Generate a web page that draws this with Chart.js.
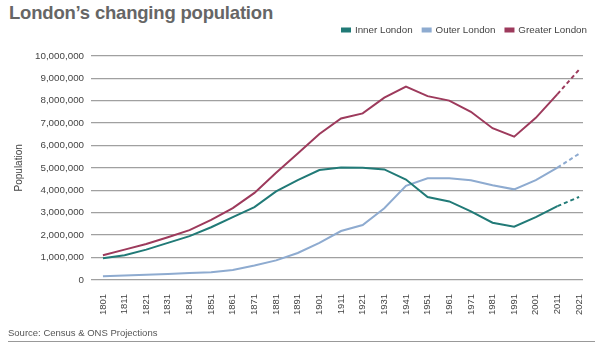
<!DOCTYPE html>
<html>
<head>
<meta charset="utf-8">
<script src="https://cdn.jsdelivr.net/npm/chart.js@4"></script>
<style>
	html, body { margin: 0; padding: 0; background: #fff; }
	#wrap { position: relative; width: 601px; height: 347px; overflow: hidden; font-family: "Liberation Sans", Arial, sans-serif; }
	#title { position: absolute; left: 9px; top: 2px; font-size: 18.5px; font-weight: bold; color: #666; letter-spacing: -0.2px; }
	#chart_box { position: absolute; left: 0; top: 0; width: 601px; height: 330px; }
	#source { position: absolute; left: 8px; top: 327px; font-size: 9.5px; color: #555; }
	#rule { position: absolute; left: 8px; top: 341px; width: 587px; height: 1px; background: #999; }
</style>
</head>
<body>
<div id="wrap">
	<div id="title">London’s changing population</div>
	<div id="chart_box"><canvas id="chart"></canvas></div>
	<div id="source">Source: Census &amp; ONS Projections</div>
	<div id="rule"></div>
</div>
<script>
	"use strict";

	var years = [1801, 1811, 1821, 1831, 1841, 1851, 1861, 1871, 1881, 1891, 1901,
		1911, 1921, 1931, 1941, 1951, 1961, 1971, 1981, 1991, 2001, 2011, 2021];

	var inner_london = [960000, 1100000, 1350000, 1650000, 1950000, 2350000, 2800000, 3250000, 3950000, 4450000, 4900000,
		5020000, 5000000, 4930000, 4480000, 3700000, 3500000, 3060000, 2550000, 2370000, 2800000, 3290000, 3700000];

	var outer_london = [160000, 200000, 230000, 260000, 310000, 340000, 440000, 640000, 870000, 1200000, 1650000,
		2180000, 2450000, 3200000, 4200000, 4530000, 4530000, 4450000, 4220000, 4040000, 4450000, 5010000, 5630000];

	var greater_london = [1100000, 1350000, 1600000, 1900000, 2220000, 2680000, 3200000, 3880000, 4780000, 5640000, 6510000,
		7200000, 7430000, 8130000, 8630000, 8200000, 8000000, 7500000, 6770000, 6390000, 7230000, 8290000, 9380000];

	var y_ticks = [0, 1000000, 2000000, 3000000, 4000000, 5000000, 6000000, 7000000, 8000000, 9000000, 10000000];

	// last segment (2011 -> 2021) is a projection
	var last_idx = years.length - 1;
	function projection_dash( ctx ) {
		return ctx.p1DataIndex === last_idx ? [4, 3] : undefined;
	}

	function make_ds( label, values, color ) {
		return {
			label: label,
			data: values,
			borderColor: color,
			backgroundColor: color,
			borderWidth: 2,
			pointRadius: 0,
			tension: 0,
			fill: false,
			segment: { borderDash: projection_dash }
		};
	}

	// extra gap below the legend, and push it to the right edge of the page
	var legend_tweak = {
		id: 'legend_tweak',
		beforeInit: function( chart ) {
			var fit = chart.legend.fit;
			chart.legend.fit = function() {
				fit.bind( chart.legend )();
				this.height += 11;
			};
		},
		afterLayout: function( chart ) {
			chart.legend.left  += 14;
			chart.legend.right += 14;
		}
	};

	Chart.defaults.font.family = '"Liberation Sans", Arial, sans-serif';
	Chart.defaults.color = '#444';

	var config = {
		type: 'line',
		data: {
			labels: years,
			datasets: [
				make_ds( 'Inner London', inner_london, '#217a77' ),
				make_ds( 'Outer London', outer_london, '#8eabd0' ),
				make_ds( 'Greater London', greater_london, '#9d3a5c' )
			]
		},
		plugins: [ legend_tweak ],
		options: {
			responsive: true,
			maintainAspectRatio: false,
			animation: false,
			layout: {
				padding: { top: 15, right: 18, left: 9, bottom: 9 }
			},
			plugins: {
				legend: {
					display: true,
					position: 'top',
					align: 'end',
					labels: {
						boxWidth: 8,
						boxHeight: 3,
						padding: 10,
						color: '#444',
						font: { size: 9.8 }
					}
				},
				tooltip: { enabled: false }
			},
			scales: {
				x: {
					type: 'linear',
					min: 1795.5,
					max: 2022.8,
					afterBuildTicks: function( axis ) {
						axis.ticks = years.map( function( v ) { return { value: v }; } );
					},
					grid: { display: false },
					border: { display: false },
					ticks: {
						maxRotation: 90,
						minRotation: 90,
						autoSkip: false,
						padding: 6,
						color: '#444',
						font: { size: 9.5 },
						callback: function( v ) { return String( v ); }
					}
				},
				y: {
					min: 0,
					max: 10000000,
					afterBuildTicks: function( axis ) {
						axis.ticks = y_ticks.map( function( v ) { return { value: v }; } );
					},
					grid: {
						color: '#a0a0a0',
						lineWidth: 1.3,
						drawTicks: false
					},
					border: { display: false },
					ticks: {
						padding: 7,
						color: '#444',
						font: { size: 9.8 },
						callback: function( v ) { return v.toLocaleString( 'en-GB' ); }
					},
					title: {
						display: true,
						text: 'Population',
						color: '#444',
						font: { size: 10 },
						padding: { top: 4, bottom: 3 }
					}
				}
			}
		}
	};

	new Chart( document.getElementById( 'chart' ), config );
</script>
</body>
</html>
